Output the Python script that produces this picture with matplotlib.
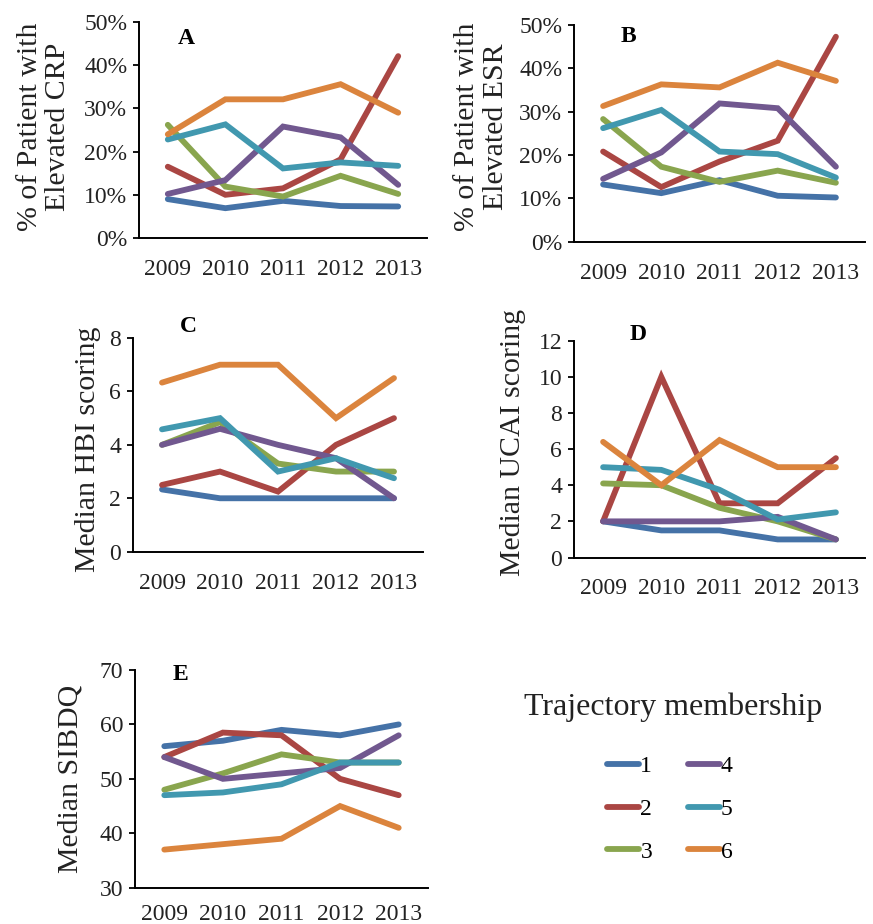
import matplotlib
matplotlib.use("Agg")
import matplotlib.pyplot as plt
from matplotlib.ticker import PercentFormatter, MultipleLocator

plt.rcParams['font.family'] = ['Liberation Serif', 'DejaVu Serif']

years = ['2009', '2010', '2011', '2012', '2013']
groups = ['1', '2', '3', '4', '5', '6']
colors = ['#4572A7', '#AA4643', '#89A54E', '#71588F', '#4198AF', '#DB843D']

# Panel A: % of patients with elevated CRP (groups 1..6)
crp = [
    [9.0, 6.9, 8.6, 7.4, 7.3],
    [16.5, 10.0, 11.5, 18.2, 42.1],
    [26.2, 11.9, 9.6, 14.4, 10.2],
    [10.2, 13.4, 25.8, 23.3, 12.3],
    [22.8, 26.3, 16.1, 17.5, 16.7],
    [24.0, 32.1, 32.1, 35.6, 29.0],
]
# Panel B: % of patients with elevated ESR
esr = [
    [13.2, 11.2, 14.2, 10.6, 10.2],
    [20.8, 12.6, 18.5, 23.3, 47.3],
    [28.3, 17.3, 13.8, 16.4, 13.6],
    [14.5, 20.6, 31.9, 30.8, 17.3],
    [26.2, 30.4, 20.8, 20.2, 14.8],
    [31.3, 36.3, 35.6, 41.3, 37.1],
]
# Panel C: median HBI
hbi = [
    [2.33, 2.0, 2.0, 2.0, 2.0],
    [2.5, 3.0, 2.25, 4.0, 5.0],
    [4.0, 4.85, 3.3, 3.0, 3.0],
    [4.0, 4.6, 4.0, 3.5, 2.0],
    [4.58, 5.0, 3.0, 3.5, 2.75],
    [6.33, 7.0, 7.0, 5.0, 6.5],
]
# Panel D: median UCAI
ucai = [
    [2.0, 1.5, 1.5, 1.0, 1.0],
    [2.0, 10.0, 3.0, 3.0, 5.5],
    [4.1, 4.0, 2.75, 2.0, 1.0],
    [2.0, 2.0, 2.0, 2.25, 1.0],
    [5.0, 4.85, 3.75, 2.1, 2.5],
    [6.4, 4.0, 6.5, 5.0, 5.0],
]
# Panel E: median SIBDQ
sibdq = [
    [56.0, 57.0, 59.0, 58.0, 60.0],
    [54.0, 58.5, 58.0, 50.0, 47.0],
    [48.0, 51.0, 54.5, 53.0, 53.0],
    [54.0, 50.0, 51.0, 52.0, 58.0],
    [47.0, 47.5, 49.0, 53.0, 53.0],
    [37.0, 38.0, 39.0, 45.0, 41.0],
]

W, H = 873, 924
fig = plt.figure(figsize=(W / 100, H / 100), dpi=100)


def rect(l, t, r, b):
    return [l / W, 1 - b / H, (r - l) / W, (b - t) / H]


def fx(x):
    return x / W


def fy(y):
    return 1 - y / H


tick_fs = 17
lab_fs = 21.5
txt_col = '#222222'


def make_panel(r, data, ylim, step, ylabel, letter, lpos, lab_x, lab_y,
               pct=False, xpad=15):
    ax = fig.add_axes(rect(*r))
    x = list(range(len(years)))
    handles = []
    for i, series in enumerate(data):
        h, = ax.plot(x, series, color=colors[i], lw=4.2, solid_capstyle='round',
                     solid_joinstyle='miter', label=groups[i])
        handles.append(h)
    ax.set_xlim(-0.5, len(years) - 0.5)
    ax.set_ylim(*ylim)
    ax.yaxis.set_major_locator(MultipleLocator(step))
    if pct:
        ax.yaxis.set_major_formatter(PercentFormatter(decimals=0))
    ax.set_xticks(x)
    ax.set_xticklabels(years)
    for s in ['top', 'right']:
        ax.spines[s].set_visible(False)
    for s in ['left', 'bottom']:
        ax.spines[s].set_linewidth(1.4)
        ax.spines[s].set_color('black')
    ax.tick_params(axis='x', length=0, pad=xpad, labelsize=tick_fs, labelcolor=txt_col)
    ax.tick_params(axis='y', length=4.5, width=1.3, pad=4, direction='out',
                   labelsize=tick_fs, labelcolor=txt_col)
    ax.set_ylabel(ylabel, fontsize=lab_fs, color=txt_col, linespacing=1.12)
    ax.yaxis.set_label_coords(lab_x, lab_y)
    fig.text(fx(lpos[0]), fy(lpos[1]), letter, fontsize=17, fontweight='bold',
             ha='center', va='center')
    return ax, handles


axA, handles = make_panel((139, 22, 427, 238), crp, (0, 50), 10,
                          '% of Patient with\nElevated CRP', 'A', (186, 39), -0.235, 0.515, pct=True)
make_panel((574, 25, 865, 241.7), esr, (0, 50), 10,
           '% of Patient with\nElevated ESR', 'B', (628, 37), -0.225, 0.53, pct=True)
make_panel((133, 338, 423, 551.7), hbi, (0, 8), 2,
           'Median HBI scoring', 'C', (188, 327), -0.11, 0.48)
make_panel((574, 340.7, 865, 557.5), ucai, (0, 12), 2,
           'Median UCAI scoring', 'D', (638, 335), -0.165, 0.53)
make_panel((135, 670, 428, 887.7), sibdq, (30, 70), 10,
           'Median SIBDQ', 'E', (180, 675), -0.175, 0.5, xpad=12)

fig.text(fx(673), fy(707), 'Trajectory membership', fontsize=23, ha='center',
         va='center', color=txt_col)
fig.legend(handles=handles, loc='center', bbox_to_anchor=(fx(670), fy(809)),
           ncol=2, frameon=False, fontsize=tick_fs, handlelength=1.35,
           handletextpad=0.05, columnspacing=1.5, labelspacing=0.9)

fig.savefig('out.png', dpi=100)
